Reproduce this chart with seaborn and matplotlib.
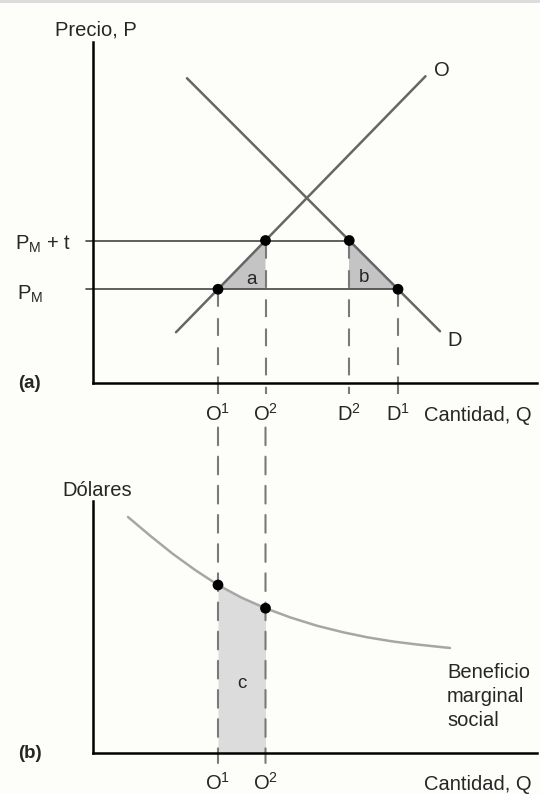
import matplotlib
matplotlib.use("Agg")
import matplotlib.pyplot as plt
from matplotlib.patches import ConnectionPatch, Polygon, Rectangle
import seaborn as sns

# ---- Panel (a): market with a tariff ----
q_o1, q_o2 = 5.0, 6.9          # domestic supply before / after
q_d2, q_d1 = 10.25, 12.2       # domestic demand after / before
p_m = 3.75                     # world price
p_mt = 5.7                     # world price plus tariff

supply_q = [3.32, 13.3]
supply_p = [2.03, 12.27]
demand_q = [3.76, 13.88]
demand_p = [12.19, 2.07]

# ---- Panel (b): marginal social benefit of domestic output ----
msb_q = [1.4, 2.3, 3.2, 4.1, 5.0, 5.95, 6.9, 7.9, 8.96, 10.0, 10.96, 12.0, 12.96, 14.28]
msb_v = [9.44, 8.68, 7.96, 7.31, 6.72, 6.21, 5.79, 5.42, 5.09, 4.83, 4.63, 4.46, 4.34, 4.20]

BG = "#fdfdfa"
sns.set_theme(style="white")
plt.rcParams["font.family"] = ["Liberation Sans", "DejaVu Sans"]
plt.rcParams["mathtext.fontset"] = "custom"
plt.rcParams["mathtext.rm"] = "Liberation Sans"
plt.rcParams["mathtext.it"] = "Liberation Sans:italic"

W, H = 540, 794
fig = plt.figure(figsize=(W / 100, H / 100), dpi=100, facecolor=BG)
fig.patches.append(Rectangle((0, 1 - 3 / H), 1, 3 / H, transform=fig.transFigure,
                             facecolor="#dcdcdc", edgecolor="none"))

ax_a = fig.add_axes([93 / W, 1 - 383 / H, 444 / W, 341 / H])
ax_b = fig.add_axes([93 / W, 1 - 753 / H, 444 / W, 252 / H])
ax_a.set_xlim(0, 17.76)
ax_a.set_ylim(0, 13.64)
ax_b.set_xlim(0, 17.76)
ax_b.set_ylim(0, 10.08)

for ax in (ax_a, ax_b):
    ax.set_facecolor("none")
    ax.set_xticks([])
    ax.set_yticks([])
    for side in ("top", "right"):
        ax.spines[side].set_visible(False)
    for side in ("left", "bottom"):
        ax.spines[side].set_color("black")
        ax.spines[side].set_linewidth(1.8)

FS = 14.5
FS_SMALL = 13.5
DASH = (0, (8.5, 5.5))
DCOL = "#7a7a7a"
LCOL = "#666666"

# shaded triangles a and b
ax_a.add_patch(Polygon([(q_o1, p_m), (q_o2, p_mt), (q_o2, p_m)], closed=True,
                       facecolor="#c4c4c4", edgecolor="none", zorder=1))
ax_a.add_patch(Polygon([(q_d2, p_mt), (q_d2, p_m), (q_d1, p_m)], closed=True,
                       facecolor="#c4c4c4", edgecolor="none", zorder=1))

# price lines
ax_a.plot([-0.28, q_d2], [p_mt, p_mt], color="#444444", lw=1.2, clip_on=False, zorder=2)
ax_a.plot([-0.28, q_d1], [p_m, p_m], color="#444444", lw=1.2, clip_on=False, zorder=2)

# dashed drop lines in panel (a)
for q, p in [(q_o1, p_m), (q_o2, p_mt), (q_d2, p_mt), (q_d1, p_m)]:
    ax_a.plot([q, q], [p, -0.45], color=DCOL, lw=1.5, linestyle=DASH,
              clip_on=False, zorder=2)

# supply and demand
sns.lineplot(x=supply_q, y=supply_p, ax=ax_a, color=LCOL, linewidth=1.8, zorder=3)
sns.lineplot(x=demand_q, y=demand_p, ax=ax_a, color=LCOL, linewidth=1.8, zorder=3)

sns.scatterplot(x=[q_o1, q_o2, q_d2, q_d1], y=[p_m, p_mt, p_mt, p_m], ax=ax_a,
                color="black", s=60, edgecolor="none", zorder=5, clip_on=False)

# labels panel (a)
ax_a.text(0.12, 14.12, "Precio, P", ha="center", va="center", fontsize=FS, clip_on=False)
ax_a.text(-3.12, 5.32, r"$\mathrm{P}_{\mathrm{M}}$ + t", ha="left", va="baseline",
          fontsize=FS, clip_on=False)
ax_a.text(-3.04, 3.32, r"$\mathrm{P}_{\mathrm{M}}$", ha="left", va="baseline",
          fontsize=FS, clip_on=False)
ax_a.text(-3.0, 0.0, "(a)", ha="left", va="center", fontsize=FS_SMALL,
          fontweight="bold", clip_on=False)
ax_a.text(6.36, 4.12, "a", ha="center", va="center", fontsize=FS_SMALL)
ax_a.text(10.84, 4.24, "b", ha="center", va="center", fontsize=FS_SMALL)
ax_a.text(13.96, 12.48, "O", ha="center", va="center", fontsize=FS, clip_on=False)
ax_a.text(14.48, 1.72, "D", ha="center", va="center", fontsize=FS, clip_on=False)
tick_labels_a = [(q_o1, r"$\mathrm{O}^{\mathrm{1}}$"), (q_o2, r"$\mathrm{O}^{\mathrm{2}}$"),
                 (q_d2, r"$\mathrm{D}^{\mathrm{2}}$"), (q_d1, r"$\mathrm{D}^{\mathrm{1}}$")]
for q, lab in tick_labels_a:
    ax_a.text(q, -1.52, lab, ha="center", va="baseline", fontsize=FS, clip_on=False)
ax_a.text(13.24, -1.52, "Cantidad, Q", ha="left", va="baseline", fontsize=FS, clip_on=False)

# ---- panel (b) ----
fill_q = [q for q in msb_q if q_o1 <= q <= q_o2]
fill_v = [v for q, v in zip(msb_q, msb_v) if q_o1 <= q <= q_o2]
ax_b.fill_between(fill_q, fill_v, 0, color="#dcdcdc", linewidth=0, zorder=1)

sns.lineplot(x=msb_q, y=msb_v, ax=ax_b, color="#a6a6a6", linewidth=1.8, zorder=3)

# dashed lines linking the two panels
for q in (q_o1, q_o2):
    con = ConnectionPatch(xyA=(q, -1.78), coordsA=ax_a.transData,
                          xyB=(q, -0.4), coordsB=ax_b.transData,
                          color=DCOL, lw=1.5, linestyle=DASH, zorder=2)
    ax_b.add_artist(con)
    con.set_clip_on(False)

pts_v = [msb_v[msb_q.index(q_o1)], msb_v[msb_q.index(q_o2)]]
sns.scatterplot(x=[q_o1, q_o2], y=pts_v, ax=ax_b, color="black", s=60,
                edgecolor="none", zorder=5)

ax_b.text(-1.24, 10.52, "Dólares", ha="left", va="center", fontsize=FS, clip_on=False)
ax_b.text(5.96, 2.8, "c", ha="center", va="center", fontsize=FS_SMALL)
ax_b.text(-3.0, 0.0, "(b)", ha="left", va="center", fontsize=FS_SMALL,
          fontweight="bold", clip_on=False)
for q, lab in [(q_o1, r"$\mathrm{O}^{\mathrm{1}}$"), (q_o2, r"$\mathrm{O}^{\mathrm{2}}$")]:
    ax_b.text(q, -1.48, lab, ha="center", va="baseline", fontsize=FS, clip_on=False)
ax_b.text(13.24, -1.48, "Cantidad, Q", ha="left", va="baseline", fontsize=FS, clip_on=False)
ax_b.text(14.16, 3.6, "Beneficio\nmarginal\nsocial", ha="left", va="top",
          fontsize=FS, linespacing=1.32, clip_on=False)

for ax in (ax_a, ax_b):
    leg = ax.get_legend()
    if leg is not None:
        leg.remove()

fig.savefig("out.png", dpi=100, facecolor=BG)
